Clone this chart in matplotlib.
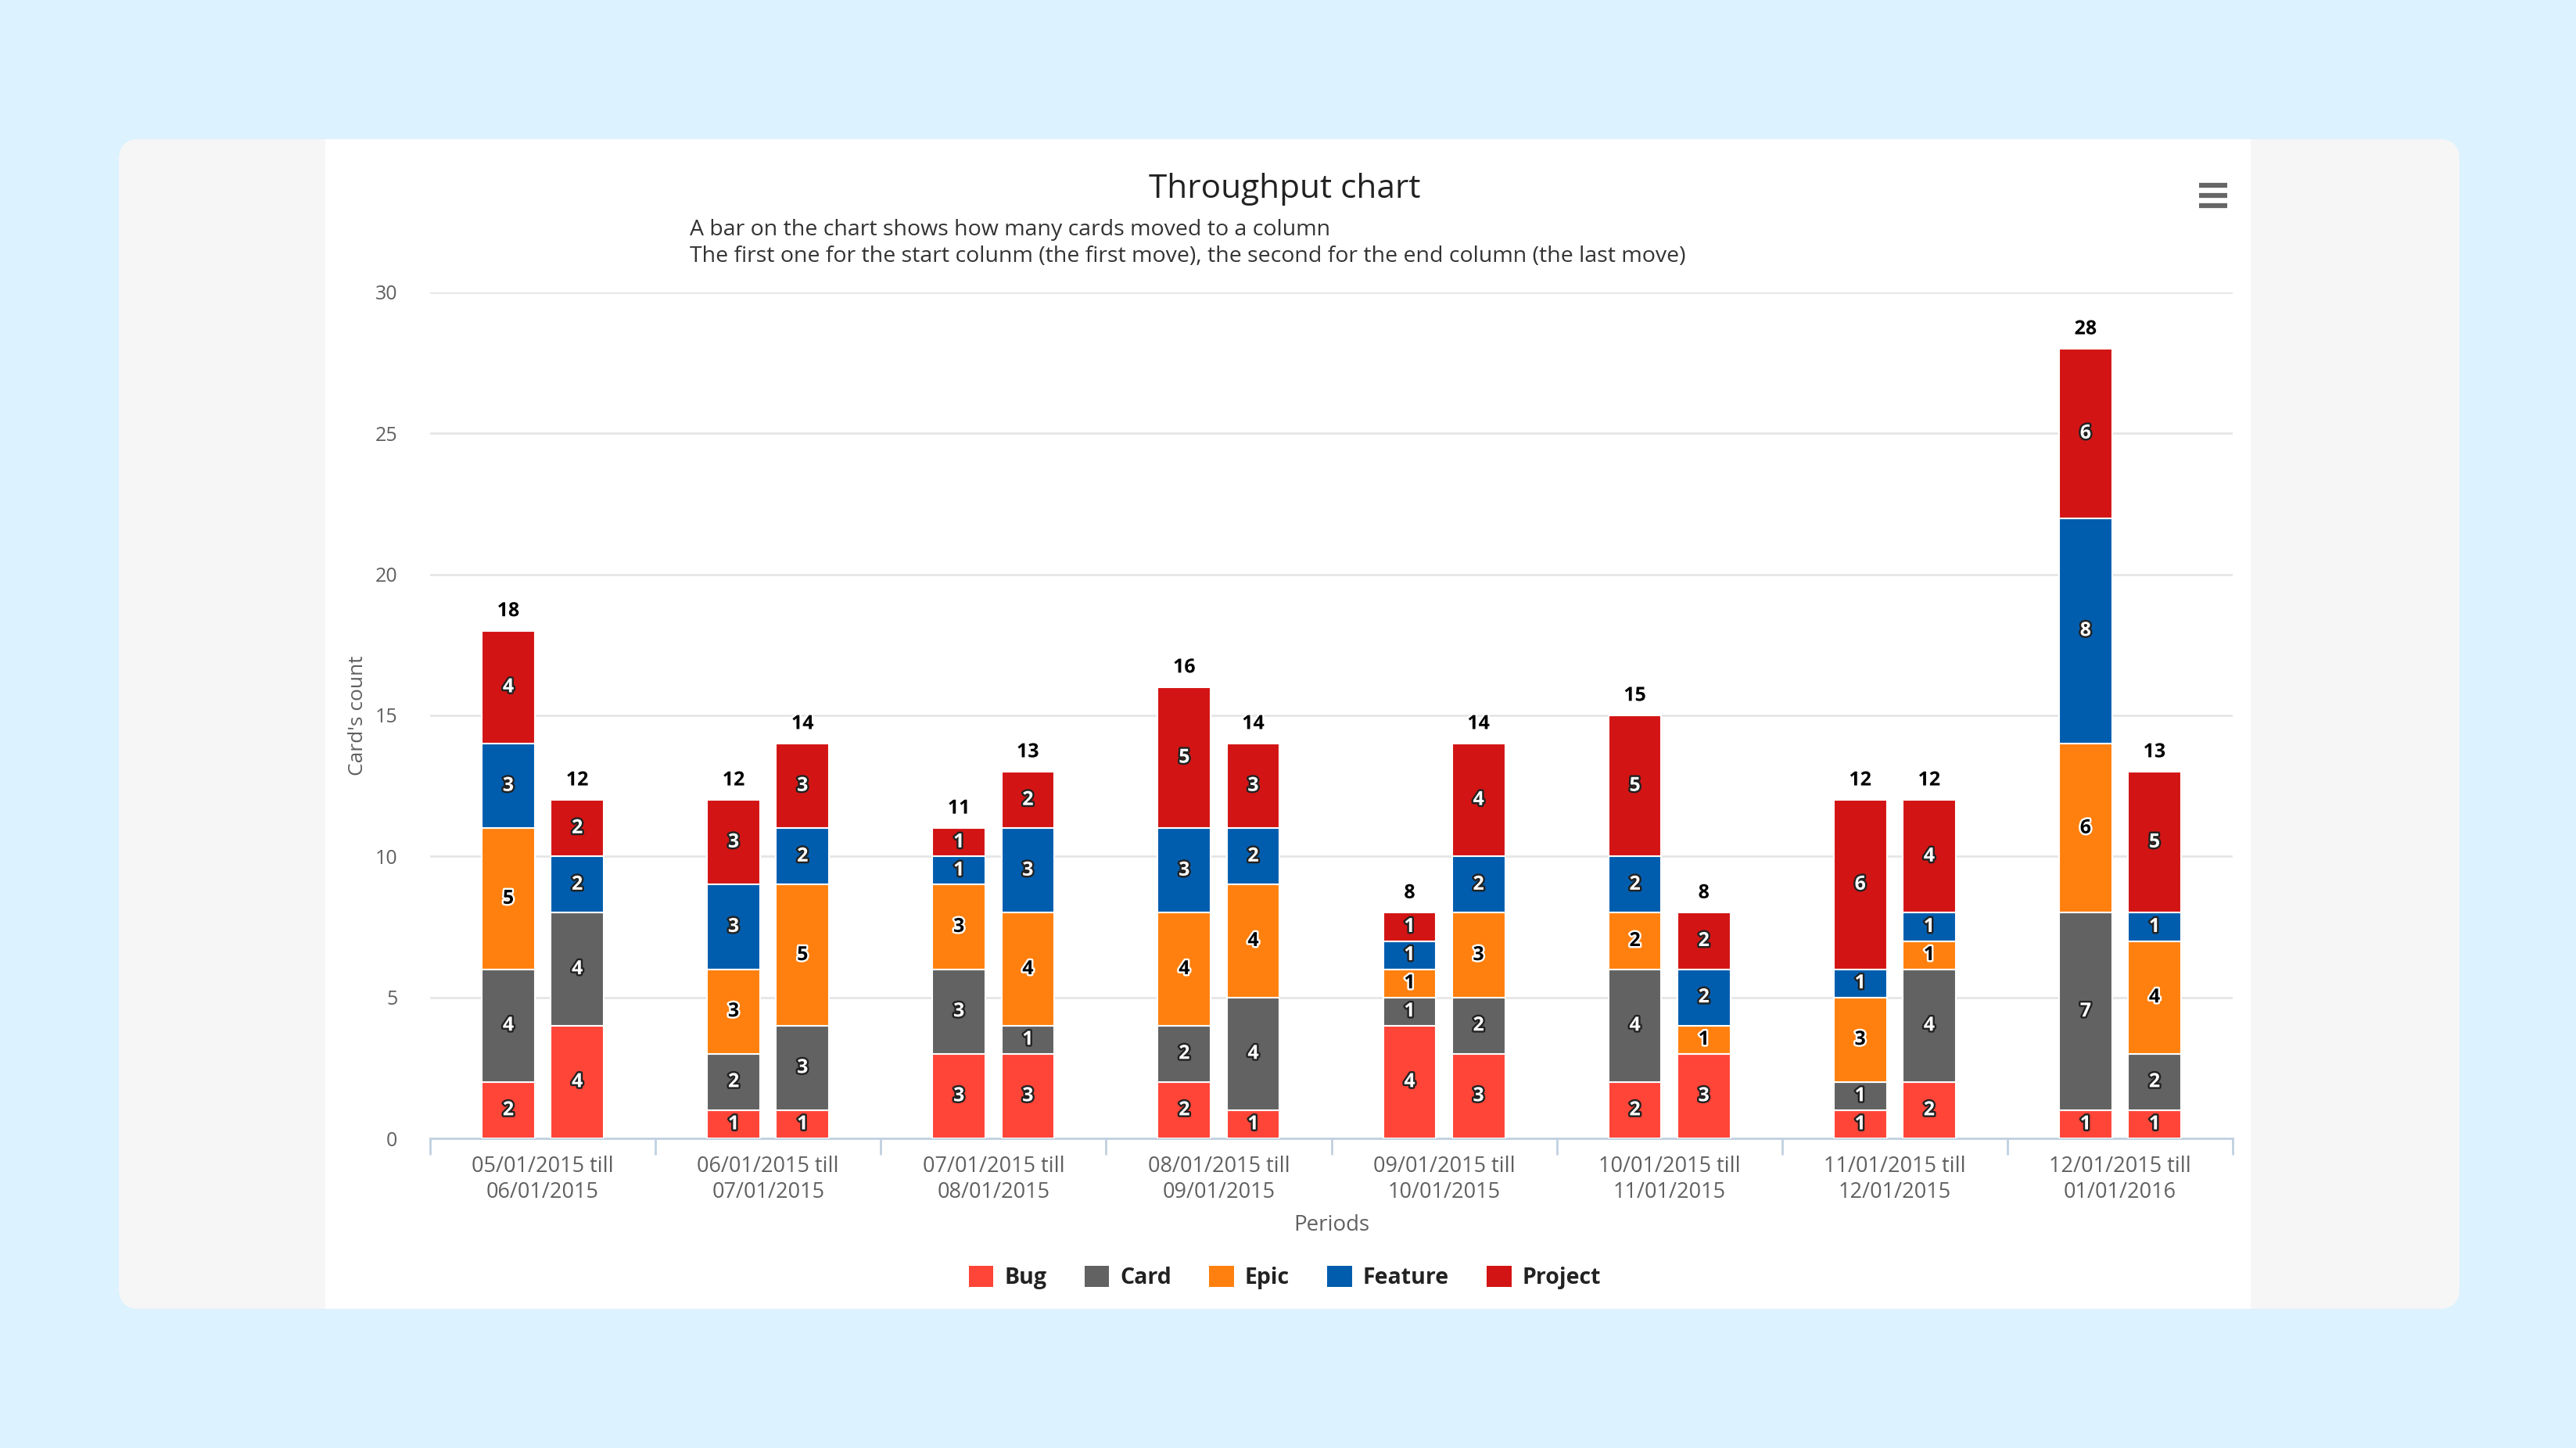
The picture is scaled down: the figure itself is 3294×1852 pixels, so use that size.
import numpy as np
import matplotlib
matplotlib.use("Agg")
import matplotlib.pyplot as plt
from matplotlib.patches import FancyBboxPatch, Rectangle
import matplotlib.patheffects as pe

plt.rcParams["font.family"] = ["Open Sans", "DejaVu Sans"]

periods = [
    "05/01/2015 till\n06/01/2015",
    "06/01/2015 till\n07/01/2015",
    "07/01/2015 till\n08/01/2015",
    "08/01/2015 till\n09/01/2015",
    "09/01/2015 till\n10/01/2015",
    "10/01/2015 till\n11/01/2015",
    "11/01/2015 till\n12/01/2015",
    "12/01/2015 till\n01/01/2016",
]
types = ["Bug", "Card", "Epic", "Feature", "Project"]
colors = ["#FF4438", "#626262", "#FF800E", "#005DAE", "#D31414"]
label_colors = ["white", "white", "black", "white", "white"]

# first bar of each period (start column)
start_bug = [2, 1, 3, 2, 4, 2, 1, 1]
start_card = [4, 2, 3, 2, 1, 4, 1, 7]
start_epic = [5, 3, 3, 4, 1, 2, 3, 6]
start_feature = [3, 3, 1, 3, 1, 2, 1, 8]
start_project = [4, 3, 1, 5, 1, 5, 6, 6]

# second bar of each period (end column)
end_bug = [4, 1, 3, 1, 3, 3, 2, 1]
end_card = [4, 3, 1, 4, 2, 0, 4, 2]
end_epic = [0, 5, 4, 4, 3, 1, 1, 4]
end_feature = [2, 2, 3, 2, 2, 2, 1, 1]
end_project = [2, 3, 2, 3, 4, 2, 4, 5]

start = [start_bug, start_card, start_epic, start_feature, start_project]
end = [end_bug, end_card, end_epic, end_feature, end_project]

W, H = 3294, 1852
fig = plt.figure(figsize=(W / 100, H / 100), dpi=100)
fig.patch.set_facecolor("#DCF2FE")

# background panels, in pixel coordinates
bg = fig.add_axes([0, 0, 1, 1])
bg.set_xlim(0, W)
bg.set_ylim(H, 0)
bg.axis("off")
bg.add_patch(FancyBboxPatch((152, 178), 2993, 1496,
                            boxstyle="round,pad=0,rounding_size=26",
                            fc="#F6F6F6", ec="none"))
bg.add_patch(Rectangle((416, 178), 2462, 1496, fc="white", ec="none"))
for yy in [237, 250, 263]:
    bg.plot([2812, 2848], [yy, yy], color="#666666", lw=4.5,
            solid_capstyle="butt")

bg.text(1643, 242, "Throughput chart", ha="center", va="center",
        fontsize=30.5, color="#222222")
bg.text(882, 294, "A bar on the chart shows how many cards moved to a column",
        ha="left", va="center", fontsize=20.5, color="#333333")
bg.text(882, 328, "The first one for the start colunm (the first move), "
        "the second for the end column (the last move)",
        ha="left", va="center", fontsize=20.5, color="#333333")

ax = fig.add_axes([550 / W, 1 - 1456 / H, 2305 / W, (1456 - 374) / H])
ax.set_facecolor("none")

x = np.arange(len(periods))
bw = 0.235
off = 0.153
outline_dark = [pe.withStroke(linewidth=3.5, foreground="#222222")]
outline_light = [pe.withStroke(linewidth=3.5, foreground="white")]

for group, shift in [(start, -off), (end, off)]:
    bottom = np.zeros(len(periods))
    for vals, col, lc in zip(group, colors, label_colors):
        vals = np.array(vals)
        ax.bar(x + shift, vals, bw, bottom=bottom, color=col,
               edgecolor="white", linewidth=1.5, zorder=3)
        for xi, v, b in zip(x, vals, bottom):
            if v > 0:
                ax.text(xi + shift, b + v / 2, str(v), ha="center",
                        va="center", fontsize=18, fontweight="bold",
                        color=lc, zorder=5,
                        path_effects=outline_dark if lc == "white" else outline_light)
        bottom = bottom + vals
    for xi, t in zip(x, bottom):
        ax.text(xi + shift, t + 0.35, str(int(t)), ha="center", va="bottom",
                fontsize=18, fontweight="bold", color="black", zorder=5,
                path_effects=outline_light)

ax.set_xlim(-0.5, len(periods) - 0.5)
ax.set_ylim(0, 30)
ax.set_yticks(range(0, 31, 5))
ax.grid(axis="y", color="#E6E6E6", linewidth=2, zorder=0)
ax.set_axisbelow(True)
for s in ["top", "right", "left"]:
    ax.spines[s].set_visible(False)
ax.spines["bottom"].set_color("#C0D0E0")
ax.spines["bottom"].set_linewidth(2)

ax.set_xticks(x)
ax.set_xticklabels(periods, fontsize=19.5, color="#606060", linespacing=1.25)
ax.set_xticks(np.arange(-0.5, len(periods), 1), minor=True)
ax.tick_params(axis="x", which="major", length=0, pad=16)
ax.tick_params(axis="x", which="minor", length=15, width=2, color="#C0D0E0")
ax.tick_params(axis="y", length=0, labelsize=18, labelcolor="#606060", pad=30)

ax.set_xlabel("Periods", fontsize=20, color="#606060", labelpad=10)
ax.set_ylabel("Card's count", fontsize=19, color="#606060", labelpad=7)

handles = [Rectangle((0, 0), 1, 1, fc=c, ec="none") for c in colors]
leg = fig.legend(handles, types, loc="center", bbox_to_anchor=(1643 / W, 1 - 1634 / H),
                 ncol=5, frameon=False, handlelength=1.1, handleheight=1.1,
                 handletextpad=0.5, columnspacing=1.7,
                 prop={"size": 20.5, "weight": "bold"})
for t in leg.get_texts():
    t.set_color("#222222")

fig.savefig("out.png", dpi=100)
